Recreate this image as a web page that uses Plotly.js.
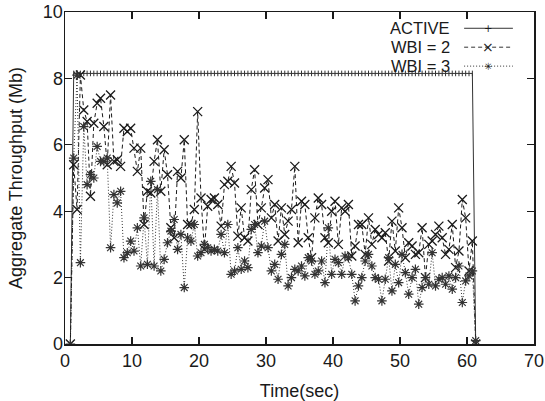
<!DOCTYPE html>
<html>
<head>
<meta charset="utf-8">
<script src="https://cdn.plot.ly/plotly-3.0.1.min.js"></script>
<style>html,body{margin:0;padding:0;background:#fff;}#chart{width:545px;height:401px;}</style>
</head>
<body>
<div id="chart"></div>
<script>
var time = [
 0.8,1.3,1.8,2.3,2.8,3.3,3.8,4.3,4.8,5.3,
 5.8,6.3,6.8,7.3,7.8,8.3,8.8,9.3,9.8,10.3,
 10.8,11.3,11.8,12.3,12.8,13.3,13.8,14.3,14.8,15.3,
 15.8,16.3,16.8,17.3,17.8,18.3,18.8,19.3,19.8,20.3,
 20.8,21.3,21.8,22.3,22.8,23.3,23.8,24.3,24.8,25.3,
 25.8,26.3,26.8,27.3,27.8,28.3,28.8,29.3,29.8,30.3,
 30.8,31.3,31.8,32.3,32.8,33.3,33.8,34.3,34.8,35.3,
 35.8,36.3,36.8,37.3,37.8,38.3,38.8,39.3,39.8,40.3,
 40.8,41.3,41.8,42.3,42.8,43.3,43.8,44.3,44.8,45.3,
 45.8,46.3,46.8,47.3,47.8,48.3,48.8,49.3,49.8,50.3,
 50.8,51.3,51.8,52.3,52.8,53.3,53.8,54.3,54.8,55.3,
 55.8,56.3,56.8,57.3,57.8,58.3,58.8,59.3,59.8,60.3,
 60.8,61.3
];
var active = [
 0,8.15,8.15,8.15,8.15,8.15,8.15,8.15,8.15,8.15,
 8.15,8.15,8.15,8.15,8.15,8.15,8.15,8.15,8.15,8.15,
 8.15,8.15,8.15,8.15,8.15,8.15,8.15,8.15,8.15,8.15,
 8.15,8.15,8.15,8.15,8.15,8.15,8.15,8.15,8.15,8.15,
 8.15,8.15,8.15,8.15,8.15,8.15,8.15,8.15,8.15,8.15,
 8.15,8.15,8.15,8.15,8.15,8.15,8.15,8.15,8.15,8.15,
 8.15,8.15,8.15,8.15,8.15,8.15,8.15,8.15,8.15,8.15,
 8.15,8.15,8.15,8.15,8.15,8.15,8.15,8.15,8.15,8.15,
 8.15,8.15,8.15,8.15,8.15,8.15,8.15,8.15,8.15,8.15,
 8.15,8.15,8.15,8.15,8.15,8.15,8.15,8.15,8.15,8.15,
 8.15,8.15,8.15,8.15,8.15,8.15,8.15,8.15,8.15,8.15,
 8.15,8.15,8.15,8.15,8.15,8.15,8.15,8.15,8.15,8.15,
 8.15,0
];
var wbi2 = [
 0,5.4,4.05,8.1,7.05,6.7,4.45,6.65,7.25,7.4,
 6.55,5.4,7.5,5.5,5.55,5.35,6.5,6.4,6.5,5.9,
 5.2,5.9,3.6,4.6,4.55,5.5,6.15,4.6,5.85,5.1,
 3.5,3.2,5.2,5.0,6.15,3.6,3.6,4.05,7.0,4.4,
 2.85,4.15,4.35,4.4,4.2,3.55,4.8,4.9,5.35,4.85,
 3.25,4.1,3.2,3.1,4.65,5.25,3.6,4.1,4.7,4.95,
 3.8,4.2,3.1,4.1,3.3,3.7,4.05,5.35,3.05,4.3,
 4.2,3.2,2.6,3.8,4.4,4.2,3.2,3.05,4.0,4.3,
 3.0,4.1,4.0,4.2,2.65,2.95,3.6,3.6,2.7,3.8,
 3.0,3.45,3.3,3.2,3.35,2.5,3.7,2.8,4.1,3.5,
 2.6,3.05,2.95,2.7,2.75,3.5,2.0,3.0,3.1,3.3,
 3.55,3.2,2.7,2.85,3.6,2.3,2.8,4.35,3.8,2.2,
 3.1,0
];
var wbi3 = [
 0,5.6,8.1,2.45,6.55,4.8,5.1,5.0,5.95,5.5,
 5.5,5.6,2.9,4.5,4.25,4.6,2.6,2.75,3.1,2.8,
 3.5,2.35,3.8,2.4,4.9,2.35,4.65,2.2,2.55,3.05,
 3.4,3.75,2.85,3.3,1.7,3.2,3.1,3.6,2.65,2.75,
 3.0,2.9,2.8,2.85,2.8,3.3,2.75,3.6,2.1,2.2,
 2.9,2.25,2.5,2.3,3.45,3.6,2.75,2.95,3.7,2.9,
 2.2,2.4,1.95,2.7,3.0,1.75,2.0,2.25,2.2,2.35,
 2.05,2.6,2.5,2.1,2.2,2.5,1.85,3.5,2.1,2.55,
 2.45,2.1,2.65,2.6,2.1,1.3,1.75,2.0,2.5,2.7,
 2.35,2.0,1.95,1.3,1.95,2.6,1.6,2.4,1.85,2.7,
 2.15,1.5,2.0,2.25,1.2,1.7,2.0,1.8,2.75,1.75,
 1.95,2.0,1.8,2.05,1.65,2.0,2.35,1.25,1.9,2.05,
 2.2,0.1
];
var seriesNames = ['ACTIVE', 'WBI = 2', 'WBI = 3'];
var xTicks = [0,10,20,30,40,50,60,70];
var yTicks = [0,2,4,6,8,10];

var ink = '#1a1a1a';
var traces = [
 {x: time, y: active, name: seriesNames[0], mode: 'lines+markers', type: 'scatter',
  line: {color: '#333', width: 1},
  marker: {symbol: 'line-ns-open', size: 4, line: {color: '#333', width: 1}}},
 {x: time, y: wbi2, name: seriesNames[1], mode: 'lines+markers', type: 'scatter',
  line: {color: ink, width: 1, dash: '4px,3px'},
  marker: {symbol: 'x-thin-open', size: 9, line: {color: ink, width: 1.3}}},
 {x: time, y: wbi3, name: seriesNames[2], mode: 'lines+markers', type: 'scatter',
  line: {color: '#333', width: 1, dash: '1px,2px'},
  marker: {symbol: 'asterisk-open', size: 8, line: {color: ink, width: 1.2}}}
];

var fontFam = 'Liberation Sans, Arial, Helvetica, sans-serif';
var legY = [0.951, 0.894, 0.837];
var legDash = ['solid', '4px,3px', '1px,2px'];
var legGlyph = ['+', '×', '✳'];
var ann = [], shapes = [];
for (var i = 0; i < 3; i++) {
  ann.push({xref: 'paper', yref: 'paper', x: 0.823, y: legY[i], xanchor: 'right', yanchor: 'middle',
    text: seriesNames[i], showarrow: false, borderpad: 0, font: {family: fontFam, size: 16.5, color: ink}});
  shapes.push({type: 'line', xref: 'paper', yref: 'paper', x0: 0.851, x1: 0.955, y0: legY[i], y1: legY[i],
    line: {color: '#333', width: 1, dash: legDash[i]}});
  ann.push({xref: 'paper', yref: 'paper', x: 0.902, y: legY[i], xanchor: 'center', yanchor: 'middle',
    text: legGlyph[i], showarrow: false, borderpad: 0, font: {family: 'DejaVu Sans, sans-serif', size: i === 1 ? 14 : 10, color: ink}});
}

var axisCommon = {
  showline: true, linecolor: ink, linewidth: 1.5, mirror: 'ticks',
  ticks: 'inside', ticklen: 7, tickwidth: 1.2, tickcolor: ink,
  showgrid: false, zeroline: false,
  tickfont: {family: fontFam, size: 18, color: ink}
};
var layout = {
  width: 545, height: 401,
  margin: {l: 65, r: 11, t: 12, b: 57},
  paper_bgcolor: '#fff', plot_bgcolor: '#fff',
  showlegend: false,
  font: {family: fontFam, color: ink},
  xaxis: Object.assign({}, axisCommon, {range: [0, 70], tickvals: xTicks, ticklabeloverflow: 'allow',
    title: {text: 'Time(sec)', font: {family: fontFam, size: 18, color: ink}, standoff: 14}}),
  yaxis: Object.assign({}, axisCommon, {range: [0, 10], tickvals: yTicks, ticklabelstandoff: -3,
    title: {text: 'Aggregate Throughput (Mb)', font: {family: fontFam, size: 18, color: ink}, standoff: 15}}),
  annotations: ann,
  shapes: shapes
};
Plotly.newPlot('chart', traces, layout, {displayModeBar: false, staticPlot: true});
</script>
</body>
</html>
